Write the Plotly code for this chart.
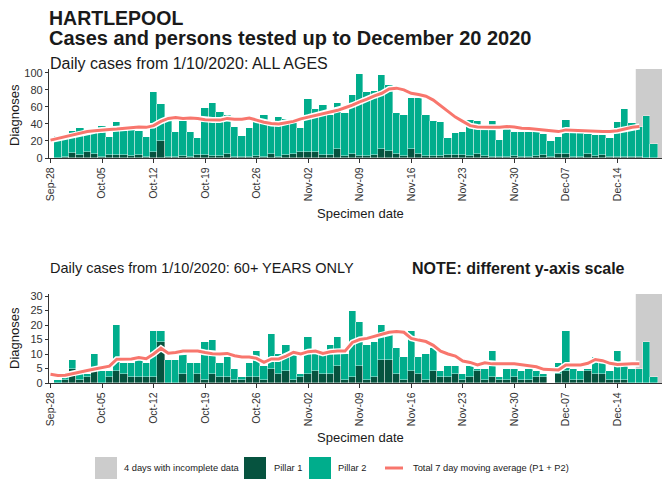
import pandas as pd
import plotly.graph_objects as go

# ---------------- data ----------------
dates = pd.date_range("2020-09-28", "2020-12-20", freq="D")
line_dates = pd.date_range("2020-09-28", "2020-12-17", freq="D")

# ALL AGES (Sep 28 .. Dec 20)
all_p1 = [None,
          0, 1,
          6, 4, 7, 5, 1, 4, 4, 4, 2, 4, 1, 7, 20, 1, 1, 2, 1, 4, 4, 2, 2, 5, 1, 1, 1, 2, 1, 5, 1, 3, 5,
          7, 7, 7, 4, 4, 10, 2, 5, 2, 2, 3, 11, 8, 5, 2, 11, 5, 2, 2, 2, 4, 4, 3, 2, 5, 2, 1, 1, 1, 2,
          1, 1, 2, 3, 1, 5, 5, 1, 1, 5, 2, 4, 1, 1, 1, 1, 1, 0, 0, None]
all_p2 = [None,
          26, 26,
          26, 31, 21, 24, 37, 21, 38, 28, 31, 28, 24, 70, 43, 44, 30, 42, 30, 20, 55, 62, 52, 45, 35, 25, 34, 40, 50, 36, 47, 43, 37,
          28, 62, 50, 58, 46, 54, 51, 69, 97, 75, 76, 86, 78, 48, 49, 60, 65, 49, 41, 40, 20, 25, 28, 43, 38, 31, 42, 20, 33, 28,
          29, 29, 33, 25, 19, 20, 40, 28, 28, 23, 25, 23, 22, 41, 57, 40, 35, 49, 16, None]
all_avg = [21, 23, 25,
           27, 29, 31, 32, 33, 33.5, 34, 35, 35.5, 36.5, 36, 38, 43, 46.5, 47.5, 46.5, 47, 46.5, 45, 44.5, 44.5,
           46.5, 45.5, 45.5, 47, 44.5, 42, 40.5, 40, 41.5, 43,
           46, 48, 50, 52, 54, 56, 59, 62, 66, 69, 73, 76, 81, 82, 80, 76, 74.5, 72.5, 68, 61, 54, 48, 43, 38,
           36.5, 36, 36, 36, 37, 36.5,
           35, 34.5, 34, 33, 32, 31, 33, 32.5, 32, 31.5, 31, 31, 31, 32, 34, 36, 37]

# 60+ YEARS ONLY (Sep 28 .. Dec 20)
old_p1 = [None,
          0, 1,
          5, 1, 2, 4, 0, 2, 4, 3, 2, 2, 2, 2, 14, 0, 0, 3, 0, 3, 1, 3, 2, 2, 1, 1, 2, 2, 1, 5, 3, 4, 1,
          2, 3, 4, 3, 3, 6, 1, 2, 6, 1, 2, 8, 8, 3, 1, 4, 3, 1, 4, 2, 2, 3, 1, 2, 4, 1, 2, 1, 1, 2,
          1, 1, 2, 2, None, 3, 4, 1, 1, 4, 3, 3, 1, 1, 1, 0, 0, 0, 0, None]
old_p2 = [None,
          1, 1,
          3, 2, 1, 6, 4, 2, 16, 4, 5, 6, 5, 16, 4, 8, 8, 7, 7, 4, 13, 12, 5, 7, 4, 1, 5, 9, 5, 12, 7, 9, 9,
          1, 13, 6, 7, 10, 10, 9, 23, 15, 12, 12, 12, 9, 9, 8, 14, 6, 9, 8, 2, 4, 3, 2, 4, 1, 4, 9, 1, 4, 3,
          3, 4, 2, 1, None, 4, 14, 4, 3, 1, 6, 4, 3, 10, 5, 5, 5, 14, 2, None]
old_avg = [3, 2.6, 2.7,
           3.3, 3.8, 4.3, 4.8, 5.3, 5.8, 8.2, 8.2, 8.3, 8.8, 8.4, 10, 12, 10.3, 10.5, 11, 11, 11, 10.5, 10.1, 10,
           10.2, 9.4, 9, 9, 8.5, 7.1, 8.3, 8.3, 9.3, 10.6,
           10, 10.8, 11, 10.2, 10.8, 11, 11, 14, 15, 15.4, 16, 16.8, 17.5, 17.8, 17.5, 15.4, 14.8, 14.3, 13, 11,
           10, 9.3, 7.6, 7.1, 6.2, 7, 6.6, 6.6, 6.6, 6.6,
           6.3, 6, 5.6, 4.7, 4.5, 4.5, 6.2, 6.2, 6.2, 6.8, 8.1, 7.7, 6.8, 6.4, 6.6, 6.6, 6.6]

tick_dates = pd.date_range("2020-09-28", "2020-12-21", freq="7D")
tick_labels = ["Sep-28", "Oct-05", "Oct-12", "Oct-19", "Oct-26", "Nov-02", "Nov-09",
               "Nov-16", "Nov-23", "Nov-30", "Dec-07", "Dec-14", "Dec-21"]
top_yticks = [0, 20, 40, 60, 80, 100]
bot_yticks = [0, 5, 10, 15, 20, 25, 30]

incomplete_start = "2020-12-16 12:00"
incomplete_end = "2020-12-20 12:00"

# ---------------- styles ----------------
C_P1 = "#06533f"
C_P2 = "#00ad8c"
C_AVG = "#f8766d"
C_GREY = "#cccccc"
FONT = "Liberation Sans, Arial, sans-serif"
TXT = "#1a1a1a"
PAGE_OFF = 8            # default body margin of the html page
W, H = 670 - PAGE_OFF, 485 - PAGE_OFF


def px_x(p):
    return (p - PAGE_OFF) / W


def px_y(p):
    return 1 - (p - PAGE_OFF) / H


fig = go.Figure()

for xa, ya, p1, p2, avg in [("x", "y", all_p1, all_p2, all_avg),
                            ("x2", "y2", old_p1, old_p2, old_avg)]:
    fig.add_trace(go.Bar(x=dates, y=p1, marker=dict(color=C_P1, line=dict(color="rgba(255,255,255,0.55)", width=0.7)),
                         xaxis=xa, yaxis=ya, showlegend=False, name="Pillar 1"))
    fig.add_trace(go.Bar(x=dates, y=p2, marker=dict(color=C_P2, line=dict(color="rgba(255,255,255,0.55)", width=0.7)),
                         xaxis=xa, yaxis=ya, showlegend=False, name="Pillar 2"))
    fig.add_trace(go.Scatter(x=line_dates, y=avg, mode="lines", line=dict(color="white", width=6),
                             xaxis=xa, yaxis=ya, showlegend=False, hoverinfo="skip"))
    fig.add_trace(go.Scatter(x=line_dates, y=avg, mode="lines", line=dict(color=C_AVG, width=3),
                             xaxis=xa, yaxis=ya, showlegend=False, name="Total 7 day moving average (P1 + P2)"))

x_range = ["2020-09-27 19:06", "2020-12-21 02:00"]
xdom = [px_x(49), px_x(669.5)]

common_x = dict(type="date", range=x_range, domain=xdom, showgrid=False, zeroline=False, automargin=False,
                showline=True, linecolor="#333333", linewidth=1.2,
                ticks="outside", ticklen=4, tickcolor="#333333", tickwidth=1,
                tickvals=list(tick_dates), ticktext=tick_labels, tickangle=-90,
                tickfont=dict(family=FONT, size=10.5, color="#333333"))
common_y = dict(showgrid=False, zeroline=False, showline=True, linecolor="#333333", linewidth=1.2,
                automargin=False, ticks="outside", ticklen=3, tickcolor="#333333", tickwidth=1,
                tickfont=dict(family=FONT, size=11, color="#333333"))

fig.update_layout(
    template="none",
    width=W, height=H, margin=dict(l=0, r=0, t=0, b=0, pad=0), autosize=False,
    paper_bgcolor="white", plot_bgcolor="white",
    barmode="stack", bargap=0, showlegend=False,
    xaxis=dict(anchor="y", **common_x),
    yaxis=dict(anchor="x", domain=[px_y(158), px_y(69)], range=[0, 104.5], tickvals=top_yticks, **common_y),
    xaxis2=dict(anchor="y2", **common_x),
    yaxis2=dict(anchor="x2", domain=[px_y(383), px_y(294)], range=[0, 30.7], tickvals=bot_yticks, **common_y),
    font=dict(family=FONT, color=TXT),
)

shapes = []
for xr, yr in [("x", "y domain"), ("x2", "y2 domain")]:
    shapes.append(dict(type="rect", xref=xr, yref=yr, x0=incomplete_start, x1=incomplete_end, y0=0, y1=1,
                       fillcolor=C_GREY, line=dict(width=0), layer="below"))

# legend (drawn manually)
legend_y0, legend_y1 = 457, 479
for x0, x1, col in [(95, 117, C_GREY), (244, 266, C_P1), (309, 331, C_P2)]:
    shapes.append(dict(type="rect", xref="paper", yref="paper", x0=px_x(x0), x1=px_x(x1),
                       y0=px_y(legend_y1), y1=px_y(legend_y0), fillcolor=col, line=dict(width=0)))
shapes.append(dict(type="line", xref="paper", yref="paper", x0=px_x(385), x1=px_x(403),
                   y0=px_y(468), y1=px_y(468), line=dict(color=C_AVG, width=3)))

annotations = []


def txt(text, x, y, size, bold=False, angle=0, xanchor="left", yanchor="middle", color=TXT):
    annotations.append(dict(text=f"<b>{text}</b>" if bold else text, x=px_x(x), y=px_y(y),
                            xref="paper", yref="paper", showarrow=False, xanchor=xanchor, yanchor=yanchor,
                            textangle=angle, font=dict(family=FONT, size=size, color=color)))


txt("HARTLEPOOL", 47, 18, 19.5, bold=True)
txt("Cases and persons tested up to December 20 2020", 47, 38.5, 20, bold=True)
txt("Daily cases from 1/10/2020: ALL AGES", 48, 63.5, 16)
txt("Daily cases from 1/10/2020: 60+ YEARS ONLY", 48, 268, 14.5)
txt("NOTE: different y-axis scale", 410, 268, 16, bold=True)
txt("Diagnoses", 14, 115, 13, angle=-90, xanchor="center")
txt("Diagnoses", 14, 338, 13, angle=-90, xanchor="center")
txt("Specimen date", 361, 213, 13, xanchor="center")
txt("Specimen date", 361, 437, 13, xanchor="center")
txt("4 days with incomplete data", 122, 468, 9.3)
txt("Pillar 1", 272, 468, 9.3)
txt("Pillar 2", 336, 468, 9.3)
txt("Total 7 day moving average (P1 + P2)", 411, 468, 9.3)

fig.update_layout(shapes=shapes, annotations=annotations)
fig.write_html("out.html")
